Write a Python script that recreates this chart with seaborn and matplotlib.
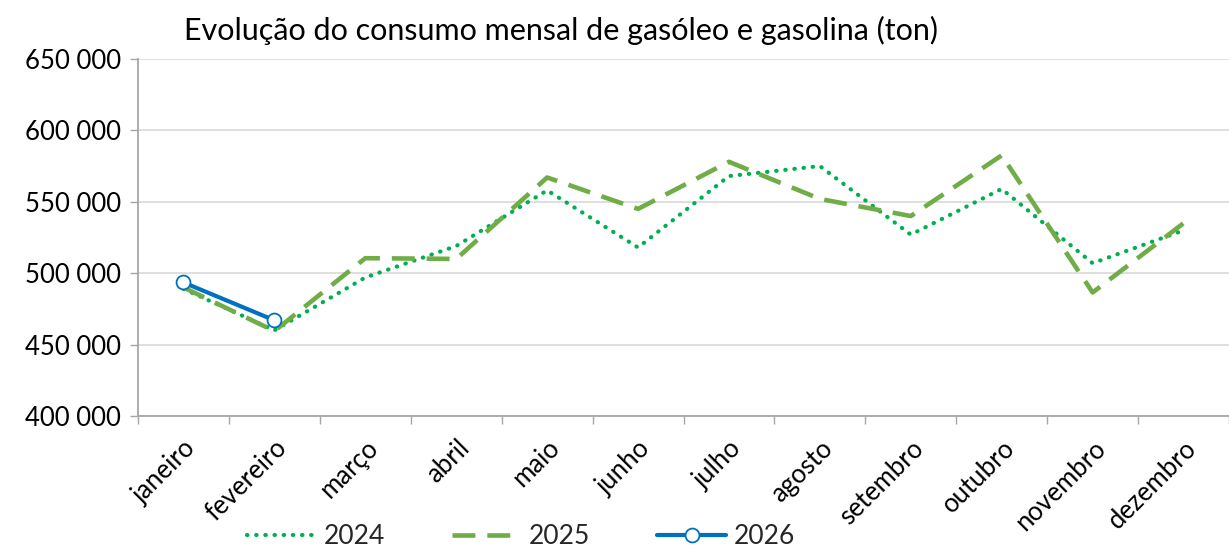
import matplotlib
matplotlib.use("Agg")
import matplotlib.pyplot as plt
import matplotlib.ticker as mticker
import seaborn as sns
import pandas as pd
import numpy as np

months = ["janeiro", "fevereiro", "março", "abril", "maio", "junho",
          "julho", "agosto", "setembro", "outubro", "novembro", "dezembro"]
v2024 = [489000, 460000, 497000, 519000, 558000, 518000,
         568000, 575000, 527000, 559000, 507000, 530000]
v2025 = [490000, 459500, 510500, 510000, 567000, 545000,
         578000, 552000, 540000, 582500, 486500, 535000]
v2026 = [493500, 467000]
title = "Evolução do consumo mensal de gasóleo e gasolina (ton)"

sns.set_theme(style="white")
plt.rcParams['font.family'] = ['Lato', 'DejaVu Sans']

fig = plt.figure(figsize=(12.29, 5.51), dpi=100)
ax = fig.add_axes([0.1123, 0.245, 0.8877, 0.648])

x = np.arange(len(months))
df24 = pd.DataFrame({"x": x, "y": v2024})
df25 = pd.DataFrame({"x": x, "y": v2025})
df26 = pd.DataFrame({"x": x[:len(v2026)], "y": v2026})

sns.lineplot(data=df24, x="x", y="y", ax=ax, color="#00B050", lw=3.0,
             linestyle=(0, (0.1, 2.1)), dash_capstyle="round", label="2024")
sns.lineplot(data=df25, x="x", y="y", ax=ax, color="#70AD47", lw=3.3,
             linestyle=(0, (5.0, 2.6)), label="2025")
sns.lineplot(data=df26, x="x", y="y", ax=ax, color="#0070C0", lw=3.0,
             marker="o", markersize=10, markerfacecolor="white",
             markeredgecolor="#0070C0", markeredgewidth=1.3, label="2026")

ax.set_xlim(-0.5, 11.5)
ax.set_ylim(400000, 650000)
ax.set_yticks(np.arange(400000, 650001, 50000))
ax.yaxis.set_major_formatter(mticker.FuncFormatter(lambda v, p: f"{int(v):,}".replace(",", " ")))
ax.set_xticks(x)
ax.set_xticklabels(months, rotation=45, ha="right", rotation_mode="anchor")
ax.set_xticks(np.arange(-0.5, 12, 1), minor=True)
ax.tick_params(axis="x", which="major", length=0, pad=14, labelsize=18.5, colors="black")
ax.tick_params(axis="x", which="minor", length=6, width=1, color="#A6A6A6", direction="out", bottom=True)
ax.tick_params(axis="y", length=6, width=1, color="#A6A6A6", direction="out", left=True,
               labelsize=18.5, pad=6, labelcolor="black")
ax.grid(axis="y", color="#D9D9D9", lw=1.2)
ax.set_axisbelow(True)
for s in ["top", "right"]:
    ax.spines[s].set_visible(False)
for s in ["left", "bottom"]:
    ax.spines[s].set_color("#A6A6A6")
    ax.spines[s].set_linewidth(1.3)
ax.set_xlabel("")
ax.set_ylabel("")

fig.text(0.15, 0.945, title, fontsize=22, color="black", ha="left", va="center")

h, l = ax.get_legend_handles_labels()
ax.legend_.remove()
fig.legend(h, l, loc="lower center", bbox_to_anchor=(0.424, -0.04), ncol=3, frameon=False,
           fontsize=19, handlelength=2.6, columnspacing=2.55, handletextpad=0.3)

fig.savefig("out.png", dpi=100)
